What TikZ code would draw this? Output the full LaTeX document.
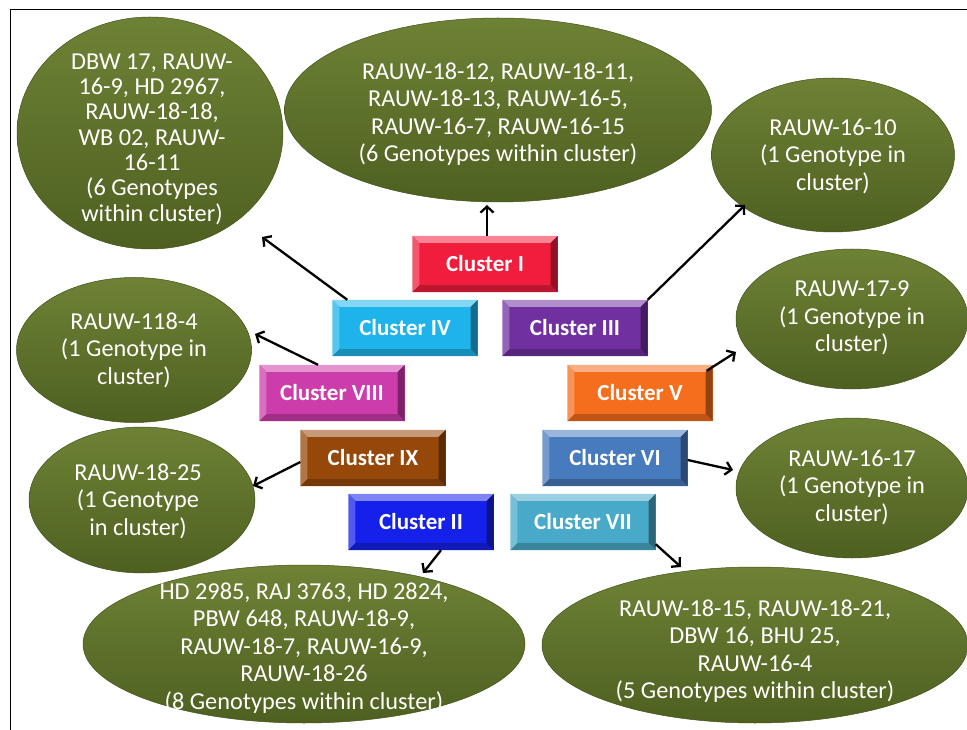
\documentclass[tikz,border=0pt]{standalone}
\usepackage{fontspec}
\setmainfont{Carlito}
\usetikzlibrary{shapes.geometric,arrows.meta,calc}
\definecolor{olivetop}{RGB}{110,130,54}
\definecolor{olivebot}{RGB}{78,96,32}
\definecolor{cred}{RGB}{240,30,60}
\definecolor{ccyan}{RGB}{30,180,235}
\definecolor{cpurple}{RGB}{112,48,160}
\definecolor{cmagenta}{RGB}{204,60,170}
\definecolor{corange}{RGB}{245,110,30}
\definecolor{cbrown}{RGB}{150,72,10}
\definecolor{csteel}{RGB}{72,122,190}
\definecolor{cblue}{RGB}{22,32,235}
\definecolor{cteal}{RGB}{72,170,200}
\newcommand\blobfont{\fontsize{24.3}{27.5}\selectfont}
\newcommand\blobfontb{\fontsize{24.3}{25.3}\selectfont}
\newcommand\clfont{\bfseries\fontsize{23}{26}\selectfont}
\def\bw{7}
\newcommand\bevelbox[4]{%
  \node[cbox, fill=#3] (#1) at (#2) {#4};
  \fill[#3!55!white] (#1.north west) -- (#1.north east) -- ($(#1.north east)+(-\bw,\bw)$) -- ($(#1.north west)+(\bw,\bw)$) -- cycle;
  \fill[#3!75!white] (#1.north west) -- (#1.south west) -- ($(#1.south west)+(\bw,-\bw)$) -- ($(#1.north west)+(\bw,\bw)$) -- cycle;
  \fill[#3!60!black] (#1.north east) -- (#1.south east) -- ($(#1.south east)+(-\bw,-\bw)$) -- ($(#1.north east)+(-\bw,\bw)$) -- cycle;
  \fill[#3!78!black] (#1.south west) -- (#1.south east) -- ($(#1.south east)+(-\bw,-\bw)$) -- ($(#1.south west)+(\bw,-\bw)$) -- cycle;
}
\tikzset{
  cbox/.style={rectangle, minimum width=145pt, minimum height=56pt, inner sep=0pt, text=white, font=\clfont},
  blob/.style={ellipse, inner sep=0pt, top color=olivetop, bottom color=olivebot, draw=olivebot!85!black, line width=0.5pt},
  blobtext/.style={text=white, align=center, font=\blobfont, inner sep=0pt},
  arr/.style={-{Straight Barb[length=6pt,width=13pt]}, line width=2.3pt, black}
}
\begin{document}
\begin{tikzpicture}[x=1pt,y=-1pt]
\useasboundingbox (0,0) rectangle (967,730);
\coordinate (f1) at (10,730);
\coordinate (f2) at (10,10);
\coordinate (f3) at (967,10);
\draw[line width=1pt] (f1) -- (f2) -- (f3);

% ellipses
\node[blob, minimum width=266pt, minimum height=232pt] (e1) at (150,133) {};
\node[blob, minimum width=427pt, minimum height=184pt] (e2) at (498,110) {};
\node[blob, minimum width=243pt, minimum height=154pt] (e3) at (833,155) {};
\node[blob, minimum width=232pt, minimum height=140pt] (e4) at (852,319) {};
\node[blob, minimum width=232pt, minimum height=140pt] (e5) at (852,488) {};
\node[blob, minimum width=235pt, minimum height=145pt] (e6) at (134,350) {};
\node[blob, minimum width=226pt, minimum height=146pt] (e7) at (142,500) {};
\node[blob, minimum width=442pt, minimum height=158pt] (e8) at (304,644) {};
\node[blob, minimum width=426pt, minimum height=156pt] (e9) at (755,645) {};

\node[blobtext, font=\blobfontb] (t1) at (152,139) {DBW 17, RAUW-\\16-9, HD 2967,\\RAUW-18-18,\\WB 02, RAUW-\\16-11\\(6 Genotypes\\within cluster)};
\node[blobtext] (t2) at (498,114) {RAUW-18-12, RAUW-18-11,\\RAUW-18-13, RAUW-16-5,\\RAUW-16-7, RAUW-16-15\\(6 Genotypes within cluster)};
\node[blobtext] (t3) at (833,156) {RAUW-16-10\\(1 Genotype in\\cluster)};
\node[blobtext] (t4) at (852,318) {RAUW-17-9\\(1 Genotype in\\cluster)};
\node[blobtext] (t5) at (852,487) {RAUW-16-17\\(1 Genotype in\\cluster)};
\node[blobtext] (t6) at (134,350) {RAUW-118-4\\(1 Genotype in\\cluster)};
\node[blobtext] (t7) at (138,501) {RAUW-18-25\\(1 Genotype\\in cluster)};
\node[blobtext] (t8) at (304,648) {HD 2985, RAJ 3763, HD 2824,\\PBW 648, RAUW-18-9,\\RAUW-18-7, RAUW-16-9,\\RAUW-18-26\\(8 Genotypes within cluster)};
\node[blobtext] (t9) at (755,651) {RAUW-18-15, RAUW-18-21,\\DBW 16, BHU 25,\\RAUW-16-4\\(5 Genotypes within cluster)};

% cluster boxes
\bevelbox{cI}{485,264}{cred}{Cluster I}
\bevelbox{cIV}{405,328}{ccyan}{Cluster IV}
\bevelbox{cIII}{575,328}{cpurple}{Cluster III}
\bevelbox{cVIII}{332,393}{cmagenta}{Cluster VIII}
\bevelbox{cV}{640,393}{corange}{Cluster V}
\bevelbox{cIX}{373,458}{cbrown}{Cluster IX}
\bevelbox{cVI}{615,458}{csteel}{Cluster VI}
\bevelbox{cII}{421,522}{cblue}{Cluster II}
\bevelbox{cVII}{583,522}{cteal}{Cluster VII}

% arrow tips
\coordinate (p1) at (487,205);
\coordinate (p4) at (262,237);
\coordinate (p3) at (745,205);
\coordinate (p8) at (255,334);
\coordinate (p5) at (736,352);
\coordinate (p9) at (253,486);
\coordinate (p6) at (733,470);
\coordinate (p2) at (423,573);
\coordinate (p7) at (681,567);

\draw[arr] ($(cI.north)+(2,0)$) -- (p1);
\draw[arr] ($(cIV.north west)+(15,0)$) -- (p4);
\draw[arr] (cIII.north east) -- (p3);
\draw[arr] ($(cVIII.north)+(-14,0)$) -- (p8);
\draw[arr] ($(cV.north east)+(-6,6)$) -- (p5);
\draw[arr] ($(cIX.west)+(0,4)$) -- (p9);
\draw[arr] ($(cVI.east)+(0,2)$) -- (p6);
\draw[arr] ($(cII.south)+(20,0)$) -- (p2);
\draw[arr] ($(cVII.south east)+(0,-6)$) -- (p7);
\end{tikzpicture}
\end{document}
